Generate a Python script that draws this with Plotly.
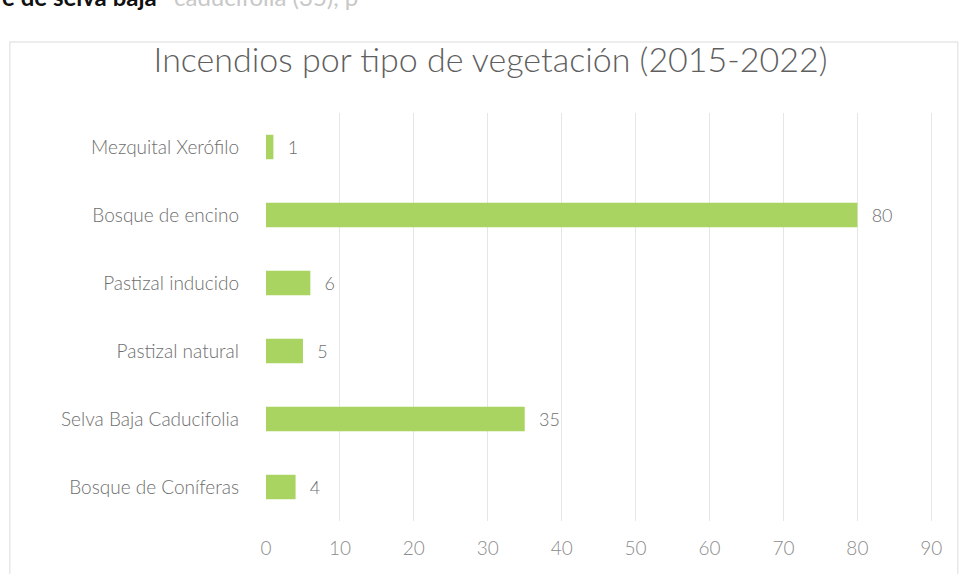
import plotly.graph_objects as go

categories = ["Mezquital Xerófilo", "Bosque de encino", "Pastizal inducido",
              "Pastizal natural", "Selva Baja Caducifolia", "Bosque de Coníferas"]
values = [1, 80, 6, 5, 35, 4]
tick_vals = [0, 10, 20, 30, 40, 50, 60, 70, 80, 90]

font_family = "Lato, 'Open Sans', sans-serif"

fig = go.Figure(go.Bar(
    x=values, y=categories, orientation="h",
    marker=dict(color="#A9D462", line=dict(width=0)),
    text=["\u2002\u2009" + str(v) for v in values], textposition="outside",
    textfont=dict(color="#6E6E6E", size=18, family=font_family, weight=300),
    cliponaxis=False, width=0.36,
))

fig.update_layout(
    width=960, height=574,
    margin=dict(l=266, r=25, t=113, b=53),
    paper_bgcolor="white", plot_bgcolor="white",
    title=dict(text="Incendios por tipo de vegetación (2015-2022)",
               x=0.511, xanchor="center", y=0.896, yanchor="middle",
               font=dict(size=34, color="#5F5F5F", family=font_family, weight=300)),
    showlegend=False,
    font=dict(family=font_family),
)
fig.update_xaxes(range=[0, 90.5], tickvals=tick_vals, showgrid=True,
                 gridcolor="#E6E6E6", gridwidth=1, zeroline=False,
                 showline=False, ticks="", automargin=False,
                 ticklabelstandoff=14,
                 tickfont=dict(size=19, color="#8C8C8C", family=font_family, weight=300))
fig.update_yaxes(categoryorder="array", categoryarray=categories[::-1],
                 showgrid=False, showline=False, ticks="", ticklen=0,
                 ticklabelstandoff=26, automargin=False,
                 tickfont=dict(size=19, color="#6E6E6E", family=font_family, weight=300))

# faint chart frame
fig.add_shape(type="rect", xref="paper", yref="paper",
              x0=-0.383, x1=1.034, y0=-0.2, y1=1.174,
              line=dict(color="#E8E8E8", width=1.5), layer="below")

# cut-off text from the scanned page above the chart
fig.add_annotation(text="<b>e de selva baja</b>", xref="paper", yref="paper",
                   x=-0.398, y=1.285, xanchor="left", yanchor="middle",
                   showarrow=False, font=dict(size=24, color="#111111", family=font_family))
fig.add_annotation(text="caducifolia (35), p", xref="paper", yref="paper",
                   x=-0.398 + 172 / 669, y=1.285, xanchor="left", yanchor="middle",
                   showarrow=False, font=dict(size=24, color="#C8C8C8", family=font_family))

fig.write_html("out.html", config={"displayModeBar": False},
               post_script="document.body.style.margin='0';")
